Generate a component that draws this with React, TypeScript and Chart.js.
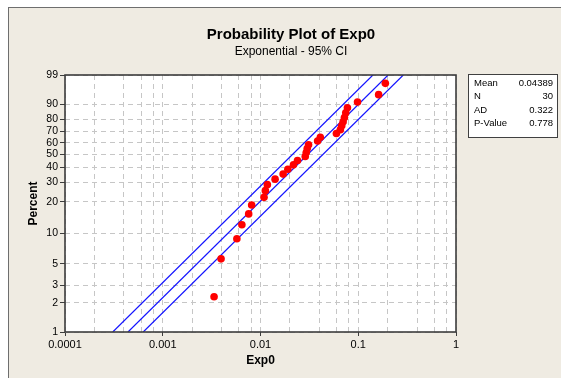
import React, { useEffect, useRef } from 'react';
import { Chart, registerables } from 'chart.js';

Chart.register(...registerables);

// ---- data ----
const expValues = [
  0.00335, 0.00395, 0.00573, 0.00645, 0.00757, 0.00812, 0.01087, 0.01121, 0.01175, 0.0141,
  0.01704, 0.01905, 0.02175, 0.02391, 0.02869, 0.02937, 0.03006, 0.03103, 0.03837, 0.04093,
  0.05976, 0.06566, 0.06776, 0.07004, 0.07224, 0.0745, 0.0775, 0.0983, 0.1616, 0.1893,
];
const percentValues = [
  2.3, 5.59, 8.88, 12.17, 15.46, 18.75, 22.04, 25.33, 28.62, 31.91,
  35.2, 38.49, 41.78, 45.07, 48.36, 51.64, 54.93, 58.22, 61.51, 64.8,
  68.09, 71.38, 74.67, 77.96, 81.25, 84.54, 87.83, 91.12, 94.41, 97.7,
];
const linePercents = [1, 99];
const fitLineX = [0.000441, 0.2021];
const lowerCIX = [0.000308, 0.1413];
const upperCIX = [0.000631, 0.289];

const yTickValues = [1, 2, 3, 5, 10, 20, 30, 40, 50, 60, 70, 80, 90, 99];
const yTickLabels = ['1', '2', '3', '5', '10', '20', '30', '40', '50', '60', '70', '80', '90', '99'];
const xTickValues = [0.0001, 0.001, 0.01, 0.1, 1];
const xTickLabels = ['0.0001', '0.001', '0.01', '0.1', '1'];
const xMinorGrid = [
  0.0002, 0.0004, 0.0006, 0.0008,
  0.002, 0.004, 0.006, 0.008,
  0.02, 0.04, 0.06, 0.08,
  0.2, 0.4, 0.6, 0.8,
];
const statLabels = ['Mean', 'N', 'AD', 'P-Value'];
const statValues = ['0.04389', '30', '0.322', '0.778'];

const titleText = 'Probability Plot of Exp0';
const subtitleText = 'Exponential - 95% CI';

// exponential probability scale (ln(-ln(1-p)))
const toW = (p: number) => Math.log(-Math.log(1 - p / 100));

const FONT = '"Liberation Sans", Arial, sans-serif';
const BG = '#EFEBE2';
const BLUE = 'rgb(20,20,255)';

const isDecade = (v: number) => xTickValues.some((t) => Math.abs(t - v) / t < 1e-6);

const decorPlugin = {
  id: 'decor',
  beforeDraw(chart: any) {
    const { ctx, chartArea: a, width, height } = chart;
    ctx.save();
    ctx.fillStyle = BG;
    ctx.fillRect(0, 0, width, height);
    ctx.fillStyle = '#ffffff';
    ctx.fillRect(a.left, a.top, a.right - a.left, a.bottom - a.top);
    ctx.restore();
  },
  afterDraw(chart: any) {
    const { ctx, chartArea: a } = chart;
    ctx.save();
    // plot frame
    ctx.strokeStyle = '#3c3c3c';
    ctx.lineWidth = 1.6;
    ctx.strokeRect(a.left, a.top, a.right - a.left, a.bottom - a.top);

    // titles
    ctx.fillStyle = '#000';
    ctx.textAlign = 'center';
    ctx.textBaseline = 'middle';
    ctx.font = `bold 15px ${FONT}`;
    ctx.fillText(titleText, 282, 26.5);
    ctx.font = `12px ${FONT}`;
    ctx.fillText(subtitleText, 282, 43.5);

    // stats box
    const bx = 459, by = 66, bw = 89, bh = 63;
    ctx.fillStyle = '#ffffff';
    ctx.fillRect(bx, by, bw, bh);
    ctx.strokeStyle = '#404040';
    ctx.lineWidth = 1;
    ctx.strokeRect(bx + 0.5, by + 0.5, bw, bh);
    ctx.fillStyle = '#000';
    ctx.font = `9.5px ${FONT}`;
    statLabels.forEach((lab, i) => {
      const y = 75.5 + i * 13.3;
      ctx.textAlign = 'left';
      ctx.fillText(lab, 465, y);
      ctx.textAlign = 'right';
      ctx.fillText(statValues[i], 544, y);
    });
    ctx.restore();
  },
};

export default function App() {
  const ref = useRef<HTMLCanvasElement | null>(null);

  useEffect(() => {
    const canvas = ref.current;
    if (!canvas) return;

    const mk = (xs: number[], ps: number[]) => xs.map((x, i) => ({ x, y: toW(ps[i]) }));
    const lineDs = (label: string, xs: number[]) => ({
      type: 'line',
      label,
      data: mk(xs, linePercents),
      borderColor: BLUE,
      backgroundColor: BLUE,
      borderWidth: 1.2,
      pointRadius: 0,
      fill: false,
      tension: 0,
      order: 2,
    });

    const chart = new Chart(canvas, {
      type: 'scatter',
      data: {
        datasets: [
          {
            type: 'scatter',
            label: 'Exp0',
            data: mk(expValues, percentValues),
            backgroundColor: '#ff0000',
            borderColor: '#ff0000',
            pointRadius: 3.8,
            pointBorderWidth: 0,
            showLine: false,
            order: 1,
          },
          lineDs('Fit', fitLineX),
          lineDs('Lower', lowerCIX),
          lineDs('Upper', upperCIX),
        ],
      },
      options: {
        animation: false,
        responsive: false,
        events: [],
        layout: { padding: { left: 0, top: 67, right: 106, bottom: 0 } },
        plugins: {
          legend: { display: false },
          tooltip: { enabled: false },
          title: { display: false },
        },
        scales: {
          x: {
            type: 'logarithmic',
            min: 0.0001,
            max: 1,
            afterBuildTicks: (s: any) => {
              s.ticks = [...xTickValues, ...xMinorGrid]
                .sort((p, q) => p - q)
                .map((v) => ({ value: v, major: false }));
            },
            afterFit: (s: any) => {
              s.height = 47;
            },
            grid: {
              color: '#c6c6c6',
              lineWidth: 1,
              tickLength: 4,
              tickColor: (c: any) => (c.tick && isDecade(c.tick.value) ? '#3c3c3c' : 'rgba(0,0,0,0)'),
            },
            border: { display: false, dash: [5, 4] },
            ticks: {
              autoSkip: false,
              maxRotation: 0,
              padding: 2,
              color: '#000',
              font: { family: FONT, size: 11 },
              callback: (v: any) => {
                const i = xTickValues.findIndex((t) => Math.abs(t - Number(v)) / t < 1e-6);
                return i >= 0 ? xTickLabels[i] : '';
              },
            },
            title: {
              display: true,
              text: 'Exp0',
              color: '#000',
              font: { family: FONT, size: 12, weight: 'bold' },
              padding: { top: 0, bottom: 11 },
            },
          },
          y: {
            type: 'linear',
            min: toW(1),
            max: toW(99),
            afterBuildTicks: (s: any) => {
              s.ticks = yTickValues.map((p) => ({ value: toW(p) }));
            },
            afterFit: (s: any) => {
              s.width = 56;
            },
            grid: {
              color: '#c6c6c6',
              lineWidth: 1,
              tickLength: 5,
              tickColor: '#3c3c3c',
            },
            border: { display: false, dash: [5, 4] },
            ticks: {
              autoSkip: false,
              padding: 2,
              color: '#000',
              font: { family: FONT, size: 10.5 },
              callback: (_v: any, i: number) => yTickLabels[i],
            },
            title: {
              display: true,
              text: 'Percent',
              color: '#000',
              font: { family: FONT, size: 12, weight: 'bold' },
              padding: { top: 17, bottom: 0 },
            },
          },
        },
      },
      plugins: [decorPlugin],
    } as any);

    return () => chart.destroy();
  }, []);

  return (
    <div
      style={{
        position: 'fixed',
        left: 8,
        top: 7,
        width: 553,
        height: 371,
        borderLeft: '1px solid #6e6e6e',
        borderTop: '1px solid #6e6e6e',
        background: BG,
      }}
    >
      <canvas ref={ref} width={553} height={371} style={{ display: 'block', width: 553, height: 371 }} />
    </div>
  );
}
